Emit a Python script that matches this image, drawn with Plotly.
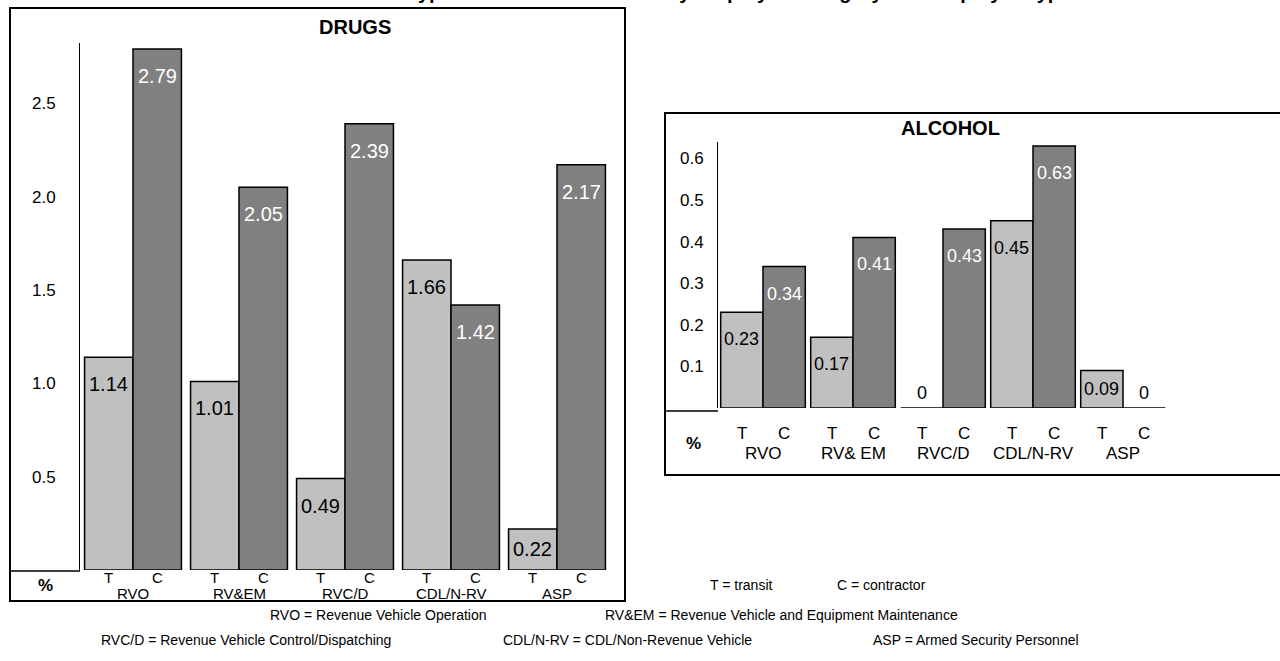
import plotly.graph_objects as go

# ---------------- data ----------------
drug_categories = ["RVO", "RV&EM", "RVC/D", "CDL/N-RV", "ASP"]
alcohol_categories = ["RVO", "RV& EM", "RVC/D", "CDL/N-RV", "ASP"]
employer_codes = ["T", "C"]
drugs_transit = [1.14, 1.01, 0.49, 1.66, 0.22]
drugs_contractor = [2.79, 2.05, 2.39, 1.42, 2.17]
alcohol_transit = [0.23, 0.17, 0.0, 0.45, 0.09]
alcohol_contractor = [0.34, 0.41, 0.43, 0.63, 0.0]
drugs_tick_values = [0.5, 1.0, 1.5, 2.0, 2.5]
drugs_tick_text = ["0.5", "1.0", "1.5", "2.0", "2.5"]
alcohol_tick_values = [0.1, 0.2, 0.3, 0.4, 0.5, 0.6]
alcohol_tick_text = ["0.1", "0.2", "0.3", "0.4", "0.5", "0.6"]
title_text = "Test Type Positive Rate Results by Employee Category and Employer Type"
legend_codes = ["T = transit", "C = contractor"]
footnotes_row1 = ["RVO = Revenue Vehicle Operation",
                  "RV&EM = Revenue Vehicle and Equipment Maintenance"]
footnotes_row2 = ["RVC/D = Revenue Vehicle Control/Dispatching",
                  "CDL/N-RV = CDL/Non-Revenue Vehicle",
                  "ASP = Armed Security Personnel"]

# ---------------- layout helpers (pixels -> paper) ----------------
W, H = 1280, 661


def px(x):
    return x / W


def py(y):
    return 1 - y / H


LIGHT = "#C0C0C0"
DARK = "#808080"
FONT = "Liberation Sans, Arial, sans-serif"

# panel geometry (pixels)
D_LEFT, D_RIGHT, D_TOP, D_BASE = 80, 610, 43, 570
D_PXPU = 186.7
A_LEFT, A_RIGHT, A_TOP, A_BASE = 718, 1168, 142, 408
A_PXPU = 416.0

D_W = 0.457
A_W = 0.47

fig = go.Figure()

fig.add_trace(go.Bar(x=drug_categories, y=drugs_transit, width=D_W, offset=-D_W,
                     marker=dict(color=LIGHT, line=dict(color="black", width=1.5)),
                     xaxis="x", yaxis="y", showlegend=False, hoverinfo="skip"))
fig.add_trace(go.Bar(x=drug_categories, y=drugs_contractor, width=D_W, offset=0,
                     marker=dict(color=DARK, line=dict(color="black", width=1.5)),
                     xaxis="x", yaxis="y", showlegend=False, hoverinfo="skip"))
fig.add_trace(go.Bar(x=alcohol_categories, y=alcohol_transit, width=A_W, offset=-A_W,
                     marker=dict(color=LIGHT, line=dict(color="black", width=1.5)),
                     xaxis="x2", yaxis="y2", showlegend=False, hoverinfo="skip"))
fig.add_trace(go.Bar(x=alcohol_categories, y=alcohol_contractor, width=A_W, offset=0,
                     marker=dict(color=DARK, line=dict(color="black", width=1.5)),
                     xaxis="x2", yaxis="y2", showlegend=False, hoverinfo="skip"))

annotations = []


def value_labels(values, half, xref, yref, pxpu, color, size):
    for i, v in enumerate(values):
        hpx = v * pxpu
        if v == 0:
            annotations.append(dict(x=i + half, y=0, xref=xref, yref=yref, text=f"{v:g}",
                                    showarrow=False, xanchor="center", yanchor="middle", yshift=15,
                                    font=dict(family=FONT, size=size, color="black")))
        else:
            annotations.append(dict(x=i + half, y=v, xref=xref, yref=yref, text=f"{v:.2f}",
                                    showarrow=False, xanchor="center", yanchor="middle",
                                    yshift=-min(27, hpx / 2),
                                    font=dict(family=FONT, size=size, color=color)))


value_labels(drugs_transit, -D_W / 2, "x", "y", D_PXPU, "black", 20)
value_labels(drugs_contractor, D_W / 2, "x", "y", D_PXPU, "white", 20)
value_labels(alcohol_transit, -A_W / 2, "x2", "y2", A_PXPU, "black", 18)
value_labels(alcohol_contractor, A_W / 2, "x2", "y2", A_PXPU, "white", 18)


def axis_labels(cats, w, xref, y_code, y_cat, size):
    for i, c in enumerate(cats):
        for k, code in enumerate(employer_codes):
            annotations.append(dict(x=i + (w / 2 if k else -w / 2), y=py(y_code), xref=xref,
                                    yref="paper", text=code, showarrow=False,
                                    xanchor="center", yanchor="middle",
                                    font=dict(family=FONT, size=size, color="black")))
        annotations.append(dict(x=i, y=py(y_cat), xref=xref, yref="paper", text=c,
                                showarrow=False, xanchor="center", yanchor="middle",
                                font=dict(family=FONT, size=size, color="black")))


axis_labels(drug_categories, D_W, "x", 577, 593, 15)
axis_labels(alcohol_categories, A_W, "x2", 433, 453, 17)


def paper_text(text, cx, cy, size, xanchor="center", yanchor="middle", **kw):
    d = dict(x=px(cx), y=py(cy), xref="paper", yref="paper", text=text, showarrow=False,
             xanchor=xanchor, yanchor=yanchor, font=dict(family=FONT, size=size, color="black"))
    d.update(kw)
    annotations.append(d)


# panel titles and % labels
paper_text("<b>DRUGS</b>", 355, 27, 20)
paper_text("<b>ALCOHOL</b>", 950, 128, 20)
paper_text("<b>%</b>", 45, 585, 17)
paper_text("<b>%</b>", 693, 443, 17)

# main title (cut off by the top of the page, as in the source image)
annotations.append(dict(x=px(360), y=1, xref="paper", yref="paper", text="<b>" + title_text + "</b>",
                        showarrow=False, xanchor="left", yanchor="bottom", yshift=-5,
                        font=dict(family=FONT, size=20, color="black")))

# footnotes
for txt, cx in zip(legend_codes, [741, 881]):
    paper_text(txt, cx, 585, 14)
for txt, cx in zip(footnotes_row1, [378, 781]):
    paper_text(txt, cx, 615, 14)
for txt, cx in zip(footnotes_row2, [246, 627, 976]):
    paper_text(txt, cx, 640, 14)

shapes = [
    dict(type="rect", xref="paper", yref="paper", x0=px(10), x1=px(625), y0=py(601), y1=py(8),
         line=dict(color="black", width=2)),
    dict(type="line", xref="paper", yref="paper", x0=px(10), x1=px(D_LEFT), y0=py(571), y1=py(571),
         line=dict(color="black", width=1.5)),
    dict(type="rect", xref="paper", yref="paper", x0=px(665), x1=px(1290), y0=py(475), y1=py(113),
         line=dict(color="black", width=2)),
    dict(type="line", xref="paper", yref="paper", x0=px(665), x1=px(A_LEFT), y0=py(411), y1=py(411),
         line=dict(color="black", width=1.5)),
]

fig.update_layout(
    width=W, height=H, autosize=False,
    margin=dict(l=0, r=0, t=0, b=0),
    paper_bgcolor="white", plot_bgcolor="white",
    barmode="overlay",
    showlegend=False,
    annotations=annotations,
    shapes=shapes,
    xaxis=dict(domain=[px(D_LEFT), px(D_RIGHT)], range=[-0.5, 4.5], showticklabels=False,
               showgrid=False, zeroline=False, showline=False, anchor="y", fixedrange=True),
    yaxis=dict(domain=[py(D_BASE), py(D_TOP)], range=[0, (D_BASE - D_TOP) / D_PXPU],
               tickvals=drugs_tick_values, ticktext=drugs_tick_text, showgrid=False,
               zeroline=False, showline=True, linecolor="black", linewidth=1, ticks="",
               ticklabelstandoff=20, tickfont=dict(family=FONT, size=17, color="black"),
               anchor="x", fixedrange=True),
    xaxis2=dict(domain=[px(A_LEFT), px(A_RIGHT)], range=[-0.5, 4.5], showticklabels=False,
                showgrid=False, zeroline=False, showline=False, anchor="y2", fixedrange=True),
    yaxis2=dict(domain=[py(A_BASE), py(A_TOP)], range=[0, (A_BASE - A_TOP) / A_PXPU],
                tickvals=alcohol_tick_values, ticktext=alcohol_tick_text, showgrid=False,
                zeroline=False, showline=True, linecolor="black", linewidth=1, ticks="",
                ticklabelstandoff=10, tickfont=dict(family=FONT, size=17, color="black"),
                anchor="x2", fixedrange=True),
)

fig.write_html("out.html", config={"displayModeBar": False})
